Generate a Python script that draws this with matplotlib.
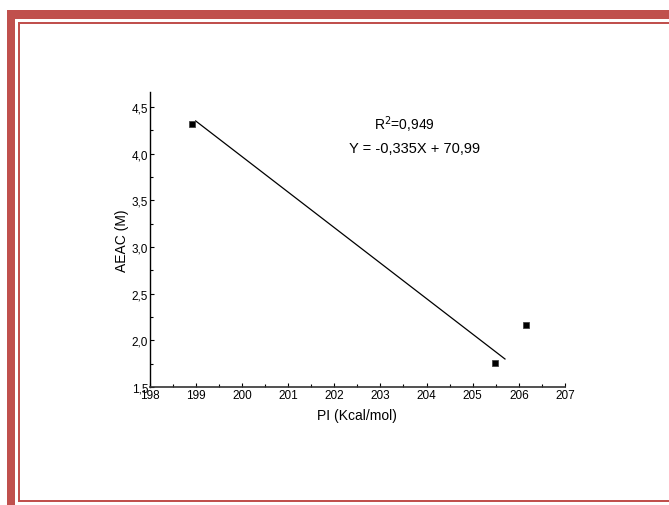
import numpy as np
import matplotlib.pyplot as plt
from matplotlib.patches import Rectangle
from matplotlib.ticker import MultipleLocator, FuncFormatter

plt.rcParams['font.family'] = ['Liberation Sans', 'DejaVu Sans']

# data
pi = [198.92, 205.49, 206.15]
aeac = [4.32, 1.76, 2.16]
fit_x = [199.0, 205.7]
fit_y = [4.35, 1.80]
r2_text = 'R$^2$=0,949'
eq_text = 'Y = -0,335X + 70,99'

fig = plt.figure(figsize=(6.69, 5.06), dpi=100)

# page border (pixel coordinates)
bg = fig.add_axes([0, 0, 1, 1], zorder=0)
bg.set_xlim(0, 669)
bg.set_ylim(506, 0)
bg.axis('off')
red = '#C0504D'
bg.add_patch(Rectangle((7, 11), 662, 8.5, color=red, lw=0))
bg.add_patch(Rectangle((7, 11), 8, 495, color=red, lw=0))
bg.add_patch(Rectangle((18, 22.5), 651, 2.2, color=red, lw=0))
bg.add_patch(Rectangle((18, 22.5), 2, 480, color=red, lw=0))
bg.add_patch(Rectangle((18, 500.5), 651, 2.2, color=red, lw=0))

ax = fig.add_axes([149.5 / 669, 118 / 506, (565 - 149.5) / 669, 295 / 506], zorder=1)
ax.patch.set_alpha(0)

ax.plot(fit_x, fit_y, color='black', lw=0.9)
ax.plot(pi, aeac, 's', color='black', markersize=5, markeredgecolor='#444444',
        markeredgewidth=0.6)

ax.set_xlim(198, 207)
ax.set_ylim(1.5, 4.66)
ax.xaxis.set_major_locator(MultipleLocator(1))
ax.xaxis.set_minor_locator(MultipleLocator(0.5))
ax.yaxis.set_major_locator(MultipleLocator(0.5))
ax.yaxis.set_minor_locator(MultipleLocator(0.25))
ax.yaxis.set_major_formatter(FuncFormatter(lambda v, p: f'{v:.1f}'.replace('.', ',')))
ax.xaxis.set_major_formatter(FuncFormatter(lambda v, p: f'{v:.0f}'))

for s in ['top', 'right']:
    ax.spines[s].set_visible(False)
ax.spines['left'].set_linewidth(1.0)
ax.spines['bottom'].set_linewidth(1.2)
ax.spines['bottom'].set_color('#333333')

ax.tick_params(which='major', direction='in', length=3, width=0.8, labelsize=8.5, pad=1)
ax.tick_params(which='minor', direction='in', length=2, width=0.8)
ax.tick_params(axis='x', pad=1.5)

ax.set_xlabel('PI (Kcal/mol)', fontsize=10, labelpad=5)
ax.set_ylabel('AEAC (M)', fontsize=10, labelpad=2)

ax.text(404, 125, r2_text, transform=bg.transData, ha='center', va='center', fontsize=10)
ax.text(415, 149, eq_text, transform=bg.transData, ha='center', va='center', fontsize=10.5)

fig.savefig('out.png', dpi=100)
